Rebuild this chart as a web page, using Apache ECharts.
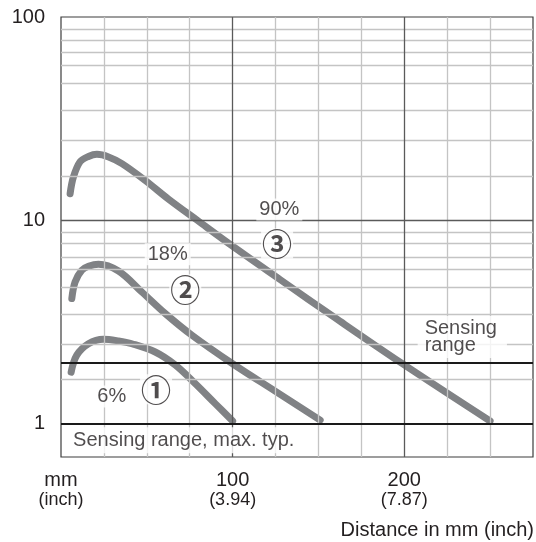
<!DOCTYPE html>
<html><head><meta charset="utf-8">
<script src="https://cdn.jsdelivr.net/npm/echarts@6/dist/echarts.min.js"></script>
<style>html,body{margin:0;padding:0;background:#fff}#c{width:536px;height:542px}</style>
</head><body><div id="c"></div>
<script>
// ---- data ----
const curve1X = [5.9, 9.2, 16.0, 24.7, 33.5, 41.3, 54.9, 66.6, 78.3, 90.0, 100];
const curve1Y = [1.79, 2.17, 2.47, 2.60, 2.55, 2.47, 2.25, 1.94, 1.57, 1.25, 1.03];
const curve2X = [6.3, 8.2, 12.1, 16.0, 21.8, 33.5, 47.1, 60.7, 76.3, 100, 125, 151];
const curve2Y = [4.12, 4.97, 5.68, 5.94, 6.08, 5.63, 4.44, 3.48, 2.72, 1.97, 1.44, 1.04];
const curve3X = [5.3, 7.2, 11.1, 16.0, 20.9, 27.7, 35.5, 49.1, 62.7, 79.4, 100.6, 127.8, 160, 197.8, 250];
const curve3Y = [13.5, 16.3, 19.4, 20.6, 21.1, 20.5, 19.0, 15.7, 12.7, 10.0, 7.4, 5.1, 3.3, 2.0, 1.03];

const xTickLabels = {0: ['mm', '(inch)'], 100: ['100', '(3.94)'], 200: ['200', '(7.87)']};
const yTickLabels = [1, 10, 100];
const xMinorGrid = [25, 50, 75, 125, 150, 175, 225, 250];
const xMajorGrid = [100, 200];
const yMinorGrid = [1.65, 2.47, 3.45, 4.67, 5.72, 6.6, 7.68, 8.7, 16.5, 24.9, 34.8, 47.0, 57.7, 66.8, 76.8, 87.0];
const yMajorGrid = [10];
const rangeLines = [1, 2];
const xAxisTitle = 'Distance in mm (inch)';

// ---- chart ----
const FONT = 'Liberation Sans';
const CJK = 'Noto Sans CJK JP';
const TXT = '#231f20';
const pair = (xs, ys) => xs.map((x, i) => [x, ys[i]]);

function gridSeries(name, xs, ys, color, width, z) {
  const data = [];
  xs.forEach(v => data.push({xAxis: v}));
  ys.forEach(v => data.push({yAxis: v}));
  return {
    name, type: 'scatter', data: [], z, silent: true,
    markLine: {silent: true, symbol: ['none', 'none'], animation: false,
      label: {show: false}, emphasis: {disabled: true},
      lineStyle: {color, width, type: 'solid'}, data}
  };
}
function curve(xs, ys) {
  return {type: 'line', data: pair(xs, ys), smooth: 0.35, symbol: 'none', z: 3,
    silent: true, animation: false,
    lineStyle: {color: '#808285', width: 7, cap: 'round', join: 'round'}};
}
const lbl = (x, y, text, extra) => Object.assign({value: [x, y], label: Object.assign({
  show: true, formatter: text, position: 'inside', fontFamily: FONT, fontSize: 20,
  color: TXT, backgroundColor: '#fff', padding: [1, 3]}, extra || {})});
const circ = {fontFamily: CJK, fontSize: 30, fontWeight: 'bold', padding: [0, 1], lineHeight: 30};

const chart = echarts.init(document.getElementById('c'), null, {renderer: 'canvas'});
chart.setOption({
  animation: false,
  backgroundColor: '#fff',
  title: {text: xAxisTitle, right: 2, top: 520, padding: 0,
    textStyle: {fontFamily: FONT, fontSize: 20, fontWeight: 'normal', color: TXT}},
  grid: {left: 61, right: 3, top: 17, bottom: 85, show: true, borderColor: '#3c3c3c', borderWidth: 1.2, containLabel: false},
  xAxis: {type: 'value', min: 0, max: 275, interval: 25,
    axisLine: {show: false}, axisTick: {show: false}, splitLine: {show: false},
    axisLabel: {margin: 13, fontFamily: FONT, color: TXT, showMinLabel: true,
      formatter: v => xTickLabels[v] ? '{a|' + xTickLabels[v][0] + '}\n{b|' + xTickLabels[v][1] + '}' : '',
      rich: {a: {fontFamily: FONT, fontSize: 20, lineHeight: 21, color: TXT},
             b: {fontFamily: FONT, fontSize: 18, lineHeight: 19, color: TXT}}}},
  yAxis: {type: 'log', logBase: 10, min: 0.685, max: 100,
    axisLine: {show: false}, axisTick: {show: false}, splitLine: {show: false},
    minorTick: {show: false}, minorSplitLine: {show: false},
    axisLabel: {margin: 16, fontFamily: FONT, fontSize: 20, color: TXT, showMinLabel: true, showMaxLabel: true,
      formatter: v => { const r = Math.round(v * 1000) / 1000; return yTickLabels.includes(r) ? String(r) : ''; }}},
  series: [
    gridSeries('minor', xMinorGrid, yMinorGrid, '#c4c4c4', 1.3, 1),
    gridSeries('major', xMajorGrid, yMajorGrid, '#5a5a5a', 1.3, 2),
    gridSeries('range', [], rangeLines, '#1a1a1a', 2.2, 2),
    curve(curve1X, curve1Y),
    curve(curve2X, curve2Y),
    curve(curve3X, curve3Y),
    {type: 'scatter', symbolSize: 0, z: 5, silent: true, animation: false,
      data: [
        lbl(127.2, 11.3, '90%'),
        lbl(125.9, 7.68, '③', circ),
        lbl(62.2, 6.8, '18%'),
        lbl(72.4, 4.58, '②', circ),
        lbl(29.6, 1.36, '6%'),
        lbl(55.4, 1.475, '①', circ),
        lbl(207.8, 2.67, 'Sensing\nrange', {position: 'right', distance: 0, align: 'left', lineHeight: 17, padding: [4, 10, 4, 7]}),
        lbl(2.4, 0.828, 'Sensing range, max. typ.', {position: 'right', distance: 0, align: 'left', padding: [3, 6, 3, 8]})
      ]}
  ]
});
</script>
</body></html>
